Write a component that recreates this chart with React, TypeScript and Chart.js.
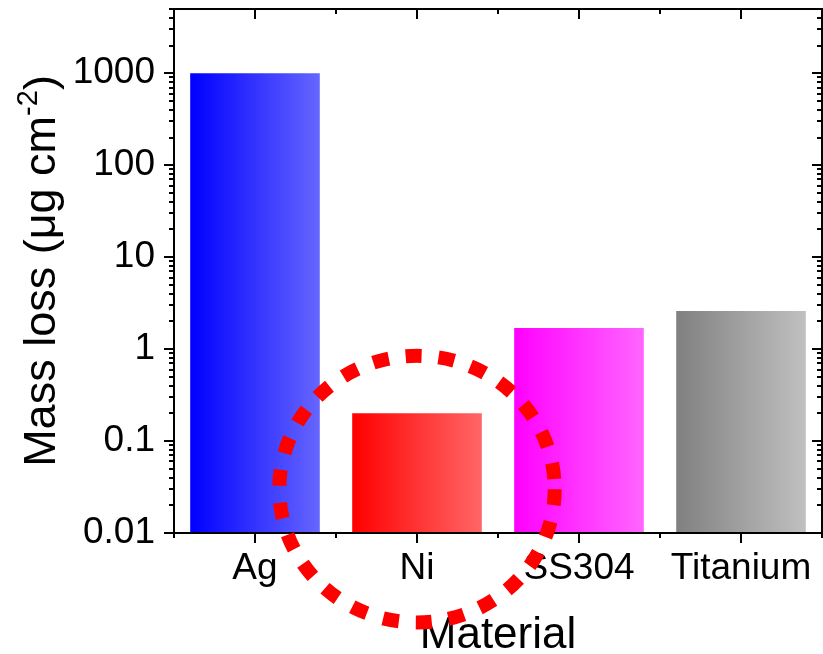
import React, { useEffect, useRef } from "react";
import { Chart, registerables } from "chart.js";

Chart.register(...registerables);

const categories = ["Ag", "Ni", "SS304", "Titanium"];
const massLoss = [1000, 0.2, 1.7, 2.6];
const barStartColors = ["#0000FF", "#FF0000", "#FF00FF", "#808080"];
const barEndColors = ["#6666FF", "#FF6666", "#FF66FF", "#C0C0C0"];
const yMin = 0.01;
const yMax = 5000;
const xTitle = "Material";
const yTitleMain = "Mass loss (\u03bcg cm";
const yTitleSup = "-2";
const yTitleEnd = ")";
// highlight ring around the Ni bar
const highlightIndex = 1;
const highlightCenterValue = 0.03;
const highlightDecades = 1.45;
const highlightCatFrac = 0.85;

const FONT = '"Liberation Sans", Arial, Helvetica, sans-serif';

function isPow10(v: number) {
  const l = Math.log10(v);
  return Math.abs(l - Math.round(l)) < 1e-6;
}

function fmt(v: number) {
  const e = Math.round(Math.log10(v));
  if (e >= 0) return String(Math.pow(10, e));
  return "0." + "0".repeat(-e - 1) + "1";
}

const framePlugin = {
  id: "framePlugin",
  afterDraw(chart: any) {
    const { ctx, chartArea: a, scales } = chart;
    const xs = scales.x;
    const ys = scales.y;
    ctx.save();
    ctx.strokeStyle = "#000";
    ctx.lineWidth = 2;
    ctx.lineCap = "butt";
    ctx.strokeRect(a.left, a.top, a.right - a.left, a.bottom - a.top);

    // y ticks (log, major + minor)
    const dMin = Math.floor(Math.log10(yMin));
    const dMax = Math.ceil(Math.log10(yMax));
    ctx.beginPath();
    for (let d = dMin; d <= dMax; d++) {
      for (let m = 1; m <= 9; m++) {
        const v = m * Math.pow(10, d);
        if (v < yMin * 0.999 || v > yMax * 1.001) continue;
        const y = Math.round(ys.getPixelForValue(v));
        const len = m === 1 ? 10 : 5;
        ctx.moveTo(a.left - len, y);
        ctx.lineTo(a.left, y);
        ctx.moveTo(a.right - len, y);
        ctx.lineTo(a.right, y);
      }
    }
    // x ticks
    const step = xs.getPixelForValue(1) - xs.getPixelForValue(0);
    for (let i = 0; i < categories.length; i++) {
      const x = Math.round(xs.getPixelForValue(i));
      ctx.moveTo(x, a.bottom);
      ctx.lineTo(x, a.bottom + 10);
      ctx.moveTo(x, a.top);
      ctx.lineTo(x, a.top + 10);
    }
    for (let i = 0; i <= categories.length; i++) {
      const x = Math.round(xs.getPixelForValue(0) - step / 2 + i * step);
      ctx.moveTo(x, a.bottom);
      ctx.lineTo(x, a.bottom + 5);
      ctx.moveTo(x, a.top);
      ctx.lineTo(x, a.top + 5);
    }
    ctx.stroke();

    // axis titles
    ctx.fillStyle = "#000";
    ctx.textBaseline = "alphabetic";
    ctx.textAlign = "center";
    ctx.font = `44px ${FONT}`;
    ctx.fillText(xTitle, (a.left + a.right) / 2, a.bottom + 115);

    ctx.save();
    ctx.translate(a.left - 119, (a.top + a.bottom) / 2);
    ctx.rotate(-Math.PI / 2);
    ctx.textAlign = "left";
    const mainFont = `45px ${FONT}`;
    const supFont = `29px ${FONT}`;
    ctx.font = mainFont;
    const w1 = ctx.measureText(yTitleMain).width;
    const w3 = ctx.measureText(yTitleEnd).width;
    ctx.font = supFont;
    const w2 = ctx.measureText(yTitleSup).width;
    let x0 = -(w1 + w2 + w3) / 2;
    ctx.font = mainFont;
    ctx.fillText(yTitleMain, x0, 0);
    x0 += w1;
    ctx.font = supFont;
    ctx.fillText(yTitleSup, x0, -18);
    x0 += w2;
    ctx.font = mainFont;
    ctx.fillText(yTitleEnd, x0, 0);
    ctx.restore();

    // highlight ring
    const cx = xs.getPixelForValue(highlightIndex);
    const cy = ys.getPixelForValue(highlightCenterValue);
    const decadePx = ys.getPixelForValue(1) - ys.getPixelForValue(10);
    const rx = step * highlightCatFrac;
    const ry = decadePx * highlightDecades;
    ctx.beginPath();
    ctx.setLineDash([16, 17]);
    ctx.lineWidth = 14;
    ctx.strokeStyle = "#FF0000";
    ctx.ellipse(cx, cy, rx, ry, 0, 0, Math.PI * 2);
    ctx.stroke();
    ctx.restore();
  },
};

export default function App() {
  const ref = useRef<HTMLCanvasElement>(null);
  useEffect(() => {
    if (!ref.current) return;
    const chart = new Chart(ref.current, {
      type: "bar",
      data: {
        labels: categories,
        datasets: [
          {
            data: massLoss,
            barPercentage: 0.8,
            categoryPercentage: 1.0,
            borderWidth: 0,
            backgroundColor: (c: any) => {
              const i = c.dataIndex;
              const chartRef = c.chart;
              if (i === undefined) return barStartColors[0];
              const xs = chartRef.scales?.x;
              if (!chartRef.chartArea || !xs) return barStartColors[i];
              const cx = xs.getPixelForValue(i);
              const step = xs.getPixelForValue(1) - xs.getPixelForValue(0);
              const w = step * 0.8;
              const g = chartRef.ctx.createLinearGradient(cx - w / 2, 0, cx + w / 2, 0);
              g.addColorStop(0, barStartColors[i]);
              g.addColorStop(1, barEndColors[i]);
              return g;
            },
          },
        ],
      },
      options: {
        responsive: false,
        animation: false,
        layout: { padding: { top: 9, right: 1, bottom: 0, left: 0 } },
        plugins: { legend: { display: false }, tooltip: { enabled: false } },
        scales: {
          x: {
            type: "category",
            offset: true,
            grid: { display: false, drawTicks: false },
            border: { display: false },
            ticks: {
              color: "#000",
              padding: 14,
              font: { family: FONT, size: 37 },
              maxRotation: 0,
              autoSkip: false,
            },
            afterFit: (s: any) => {
              s.height = 121;
              s.paddingLeft = 0;
              s.paddingRight = 0;
            },
          },
          y: {
            type: "logarithmic",
            min: yMin,
            max: yMax,
            grid: { display: false, drawTicks: false },
            border: { display: false },
            afterBuildTicks: (s: any) => {
              s.ticks = s.ticks.filter((t: any) => isPow10(t.value));
            },
            ticks: {
              color: "#000",
              padding: 19,
              font: { family: FONT, size: 37 },
              autoSkip: false,
              callback: (v: any) => fmt(Number(v)),
            },
            afterFit: (s: any) => {
              s.width = 174;
              s.paddingTop = 0;
              s.paddingBottom = 0;
            },
          },
        },
      },
      plugins: [framePlugin],
    });
    return () => chart.destroy();
  }, []);
  return (
    <div style={{ position: "fixed", left: 0, top: 0, width: 823, height: 654, background: "#fff" }}>
      <canvas ref={ref} width={823} height={654} style={{ display: "block" }} />
    </div>
  );
}
